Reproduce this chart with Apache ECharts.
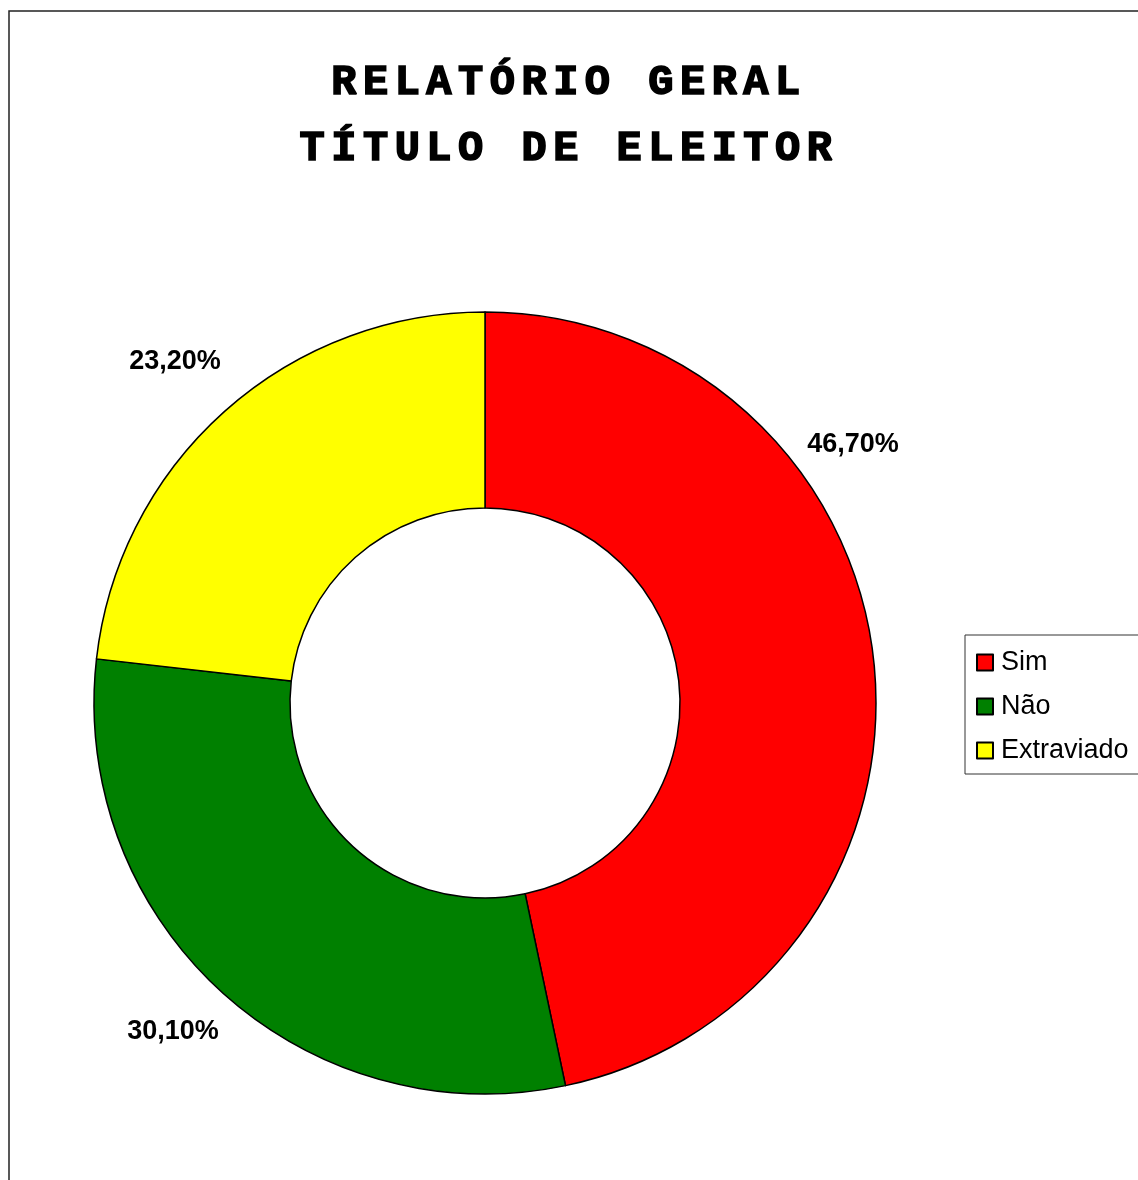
<!DOCTYPE html>
<html>
<head>
<meta charset="utf-8">
<title>Relatório Geral - Título de Eleitor</title>
<script src="https://cdn.jsdelivr.net/npm/echarts@6/dist/echarts.min.js"></script>
<style>
  html, body { margin: 0; padding: 0; background: #ffffff; }
  #chart { width: 1138px; height: 1180px; }
</style>
</head>
<body>
<div id="chart"></div>
<script>
// Survey answers and their shares (percent)
const categories = ['Sim', 'Não', 'Extraviado'];
const shares = [46.7, 30.1, 23.2];
const sliceColors = ['#ff0000', '#008000', '#ffff00'];
const titleLines = ['RELATÓRIO GERAL', 'TÍTULO DE ELEITOR'];

// Wide tracking for the monospaced heading (fill and outline alike)
const TITLE_FONT = 'Liberation Mono';
function withTracking(baseFn) {
  return function (text, x, y, maxWidth) {
    if (this.font && this.font.indexOf(TITLE_FONT) >= 0 && 'letterSpacing' in this) {
      const prev = this.letterSpacing;
      this.letterSpacing = '6.5px';
      baseFn.call(this, text, x, y, maxWidth);
      this.letterSpacing = prev;
    } else {
      baseFn.call(this, text, x, y, maxWidth);
    }
  };
}
CanvasRenderingContext2D.prototype.fillText = withTracking(CanvasRenderingContext2D.prototype.fillText);
CanvasRenderingContext2D.prototype.strokeText = withTracking(CanvasRenderingContext2D.prototype.strokeText);

// Where each percentage label sits around the ring
const labelSpots = [[853, 445], [173, 1032], [175, 362]];

const chart = echarts.init(document.getElementById('chart'), null, { renderer: 'canvas' });

chart.setOption({
  backgroundColor: '#ffffff',
  animation: false,
  title: {
    text: titleLines.join('\n'),
    left: 'center',
    top: 50,
    padding: 0,
    textStyle: {
      fontFamily: TITLE_FONT,
      fontWeight: 'bold',
      fontSize: 42,
      lineHeight: 66,
      color: '#000000',
      textBorderColor: '#000000',
      textBorderWidth: 1.6
    }
  },
  graphic: [{
    type: 'rect',
    silent: true,
    shape: { x: 9, y: 11, width: 1300, height: 1300 },
    style: { fill: 'none', stroke: '#222222', lineWidth: 1.5 },
    z: -1
  }],
  legend: {
    orient: 'vertical',
    left: 965,
    top: 635,
    padding: [14, 40, 10, 11],
    itemGap: 17,
    itemWidth: 16,
    itemHeight: 16,
    icon: 'rect',
    backgroundColor: '#ffffff',
    borderColor: '#333333',
    borderWidth: 1,
    borderRadius: 0,
    textStyle: {
      fontFamily: 'Liberation Sans',
      fontSize: 27,
      lineHeight: 27,
      color: '#000000',
      padding: [0, 0, 0, 3]
    },
    data: categories
  },
  series: [{
    type: 'pie',
    center: [485, 703],
    radius: [195, 391],
    startAngle: 90,
    clockwise: true,
    avoidLabelOverlap: false,
    itemStyle: { borderColor: '#000000', borderWidth: 1.5 },
    emphasis: { disabled: true },
    label: {
      show: true,
      position: 'outside',
      fontFamily: 'Liberation Sans',
      fontWeight: 'bold',
      fontSize: 27,
      color: '#000000',
      formatter: (p) => p.value.toFixed(2).replace('.', ',') + '%'
    },
    labelLine: { show: false },
    labelLayout: (params) => {
      const spot = labelSpots[params.dataIndex];
      return { x: spot[0], y: spot[1], align: 'center', verticalAlign: 'middle' };
    },
    data: categories.map((name, i) => ({
      name: name,
      value: shares[i],
      itemStyle: { color: sliceColors[i] }
    }))
  }]
});
</script>
</body>
</html>
